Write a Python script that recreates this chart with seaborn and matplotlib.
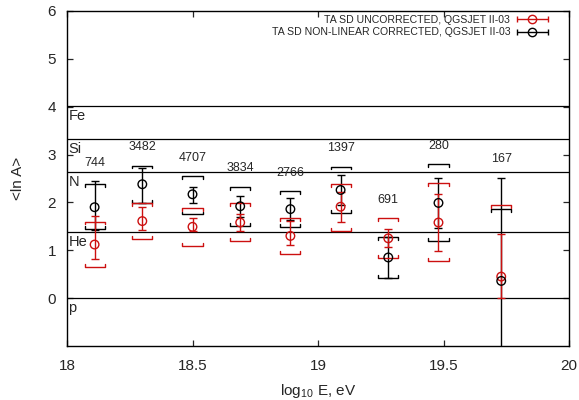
import numpy as np
import pandas as pd
import matplotlib
matplotlib.use("Agg")
import matplotlib.pyplot as plt
from matplotlib.legend_handler import HandlerErrorbar
import seaborn as sns

# ---- data ----
log_e = [18.11, 18.30, 18.50, 18.69, 18.89, 19.09, 19.28, 19.48, 19.73]
n_events = [744, 3482, 4707, 3834, 2766, 1397, 691, 280, 167]

unc_lnA = [1.12, 1.61, 1.49, 1.58, 1.30, 1.91, 1.25, 1.58, 0.45]
unc_err_hi = [1.72, 1.91, 1.68, 1.76, 1.61, 2.22, 1.44, 2.18, 1.33]
unc_err_lo = [0.82, 1.42, 1.41, 1.40, 1.11, 1.60, 1.06, 0.98, 0.00]
unc_sys_hi = [1.60, 1.99, 1.89, 1.99, 1.68, 2.38, 1.67, 2.40, 1.95]
unc_sys_lo = [0.65, 1.23, 1.09, 1.19, 0.93, 1.41, 0.84, 0.78, -1.5]

cor_lnA = [1.90, 2.38, 2.17, 1.92, 1.86, 2.26, 0.85, 1.99, 0.36]
cor_err_hi = [2.45, 2.71, 2.33, 2.14, 2.09, 2.57, 1.27, 2.52, 2.52]
cor_err_lo = [1.42, 1.99, 1.98, 1.70, 1.63, 1.95, 0.43, 1.46, -1.8]
cor_sys_hi = [2.38, 2.77, 2.55, 2.33, 2.24, 2.75, 1.27, 2.80, 1.86]
cor_sys_lo = [1.44, 1.99, 1.75, 1.51, 1.48, 1.78, 0.42, 1.20, -1.5]

elements = ["p", "He", "N", "Si", "Fe"]
mass_numbers = [1, 4, 14, 28, 56]

labels = ["TA SD UNCORRECTED, QGSJET II-03",
          "TA SD NON-LINEAR CORRECTED, QGSJET II-03"]
RED = "#cc1010"
BLACK = "#000000"

sns.set_style("ticks")
plt.rcParams["font.family"] = ["Liberation Sans", "DejaVu Sans"]
plt.rcParams["mathtext.fontset"] = "custom"
plt.rcParams["mathtext.rm"] = "Liberation Sans"
plt.rcParams["mathtext.it"] = "Liberation Sans"

fig = plt.figure(figsize=(5.79, 4.0), dpi=100)
ax = fig.add_axes([67 / 579, 1 - 346 / 400, (569 - 67) / 579, (346 - 11) / 400])

df = pd.DataFrame({
    "logE": log_e * 2,
    "lnA": unc_lnA + cor_lnA,
    "series": [labels[0]] * len(log_e) + [labels[1]] * len(log_e),
})

# element reference lines
for el, a in zip(elements, mass_numbers):
    y = np.log(a)
    ax.axhline(y, color="black", lw=0.9, zorder=1)
    ax.text(18.005, y - 0.07, el, ha="left", va="top", fontsize=10.5, zorder=2)

def draw_series(lnA, elo, ehi, slo, shi, color, z):
    x = np.array(log_e)
    lnA = np.array(lnA)
    yerr = np.vstack([lnA - np.array(elo), np.array(ehi) - lnA])
    ax.errorbar(x, lnA, yerr=yerr, fmt="none", ecolor=color, elinewidth=1.0,
                capsize=3, capthick=1.0, zorder=z)
    w = 0.04
    t = 0.06
    for xi, lo, hi in zip(x, slo, shi):
        ax.plot([xi - w, xi - w, xi + w, xi + w], [hi - t, hi, hi, hi - t],
                color=color, lw=1.0, zorder=z)
        ax.plot([xi - w, xi - w, xi + w, xi + w], [lo + t, lo, lo, lo + t],
                color=color, lw=1.0, zorder=z)

draw_series(cor_lnA, cor_err_lo, cor_err_hi, cor_sys_lo, cor_sys_hi, BLACK, 3)
draw_series(unc_lnA, unc_err_lo, unc_err_hi, unc_sys_lo, unc_sys_hi, RED, 4)

sns.scatterplot(data=df, x="logE", y="lnA", hue="series",
                palette={labels[0]: RED, labels[1]: BLACK},
                marker="o", s=38, facecolors="none", linewidth=1.0,
                legend=False, ax=ax, zorder=5)
coll = ax.collections[-1]
coll.set_edgecolors([RED] * len(log_e) + [BLACK] * len(log_e))
coll.set_facecolors("none")

# event counts
for i, (xi, n) in enumerate(zip(log_e, n_events)):
    top = max(cor_sys_hi[i], cor_err_hi[i], unc_sys_hi[i], unc_err_hi[i])
    ax.text(xi, top + 0.38, str(n), ha="center", va="center", fontsize=9)

# legend with horizontal error bars
handles = []
for lab, col in zip(labels, [RED, BLACK]):
    h = ax.errorbar([np.nan], [np.nan], xerr=[0.1], fmt="o", mfc="none",
                    mec=col, ms=6, ecolor=col, color=col, capsize=2.5,
                    elinewidth=1.0, label=lab)
    handles.append(h)
ax.legend(handles=handles, labels=labels, loc="upper right",
          bbox_to_anchor=(0.963, 0.995), frameon=False, markerfirst=False,
          fontsize=7.6, handlelength=3.0, handletextpad=0.6, labelspacing=0.25,
          borderaxespad=0, borderpad=0.2,
          handler_map={type(handles[0]): HandlerErrorbar(xerr_size=1.45)})

ax.set_xlim(18, 20)
ax.set_ylim(-1, 6)
ax.set_xticks([18, 18.5, 19, 19.5, 20])
ax.set_xticklabels(["18", "18.5", "19", "19.5", "20"])
ax.set_yticks([0, 1, 2, 3, 4, 5, 6])
ax.tick_params(direction="in", top=True, right=True, length=4, width=0.9,
               labelsize=11)
ax.tick_params(axis="x", pad=9)
ax.tick_params(axis="y", pad=8)
for s in ax.spines.values():
    s.set_visible(True)
    s.set_linewidth(1.0)
    s.set_color("black")
ax.set_xlabel(r"log$_{10}$ E, eV", fontsize=11, labelpad=7)
ax.set_ylabel("<ln A>", fontsize=11, labelpad=16)

fig.savefig("out.png", dpi=100)
